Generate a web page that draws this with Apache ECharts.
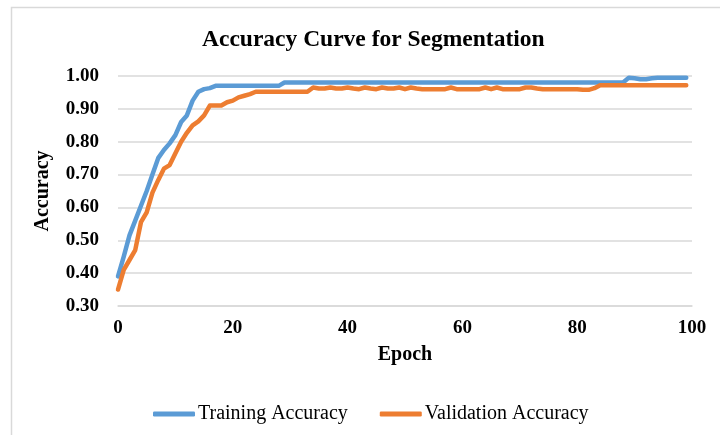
<!DOCTYPE html>
<html>
<head>
<meta charset="utf-8">
<script src="https://cdn.jsdelivr.net/npm/echarts@6/dist/echarts.min.js"></script>
<style>html,body{margin:0;padding:0;background:#fff;}#c{width:720px;height:435px;}</style>
</head>
<body>
<div id="c"></div>
<script>
const titleText = "Accuracy Curve for Segmentation";
const seriesNames = ["Training Accuracy", "Validation Accuracy"];
const yTicks = [0.30, 0.40, 0.50, 0.60, 0.70, 0.80, 0.90, 1.00];
const xTicks = [0, 20, 40, 60, 80, 100];

const training = [
  0.39, 0.45, 0.515, 0.56, 0.605, 0.65, 0.70, 0.75, 0.775, 0.795,
  0.82, 0.86, 0.88, 0.925, 0.952, 0.96, 0.963, 0.97, 0.97, 0.97,
  0.97, 0.97, 0.97, 0.97, 0.97, 0.97, 0.97, 0.97, 0.97, 0.98,
  0.98, 0.98, 0.98, 0.98, 0.98, 0.98, 0.98, 0.98, 0.98, 0.98,
  0.98, 0.98, 0.98, 0.98, 0.98, 0.98, 0.98, 0.98, 0.98, 0.98,
  0.98, 0.98, 0.98, 0.98, 0.98, 0.98, 0.98, 0.98, 0.98, 0.98,
  0.98, 0.98, 0.98, 0.98, 0.98, 0.98, 0.98, 0.98, 0.98, 0.98,
  0.98, 0.98, 0.98, 0.98, 0.98, 0.98, 0.98, 0.98, 0.98, 0.98,
  0.98, 0.98, 0.98, 0.98, 0.98, 0.98, 0.98, 0.98, 0.98, 0.995,
  0.993, 0.99, 0.99, 0.993, 0.995, 0.995, 0.995, 0.995, 0.995, 0.995
];
const validation = [
  0.35, 0.41, 0.44, 0.47, 0.555, 0.585, 0.645, 0.683, 0.718, 0.729,
  0.765, 0.80, 0.827, 0.85, 0.862, 0.88, 0.91, 0.91, 0.91, 0.92,
  0.925, 0.935, 0.94, 0.945, 0.952, 0.952, 0.952, 0.952, 0.952, 0.952,
  0.952, 0.952, 0.952, 0.952, 0.965, 0.962, 0.962, 0.965, 0.962, 0.962,
  0.965, 0.962, 0.96, 0.965, 0.962, 0.96, 0.965, 0.962, 0.962, 0.965,
  0.96, 0.965, 0.962, 0.96, 0.96, 0.96, 0.96, 0.96, 0.965, 0.96,
  0.96, 0.96, 0.96, 0.96, 0.965, 0.96, 0.965, 0.96, 0.96, 0.96,
  0.96, 0.965, 0.965, 0.962, 0.96, 0.96, 0.96, 0.96, 0.96, 0.96,
  0.96, 0.958, 0.958, 0.963, 0.972, 0.972, 0.972, 0.972, 0.972, 0.972,
  0.972, 0.972, 0.972, 0.972, 0.972, 0.972, 0.972, 0.972, 0.972, 0.972
];

const pts = arr => arr.map((v, i) => [i, v]);
const serif = "'Liberation Serif', 'Times New Roman', serif";

const chart = echarts.init(document.getElementById('c'), null, {renderer: 'canvas'});
chart.setOption({
  animation: false,
  backgroundColor: '#fff',
  graphic: [{
    type: 'rect', left: 9, top: 5, silent: true,
    shape: {width: 730, height: 450},
    style: {fill: 'none', stroke: '#D9D9D9', lineWidth: 1.5}
  }],
  title: {
    text: titleText, left: 197, top: 23,
    textStyle: {fontFamily: serif, fontWeight: 'bold', fontSize: 23.5, color: '#000'}
  },
  legend: {
    top: 399, left: 148, itemGap: 32, itemWidth: 42, itemHeight: 5,
    icon: 'roundRect',
    textStyle: {fontFamily: serif, fontSize: 20, color: '#000', padding: [0, 0, 0, -2]},
    data: seriesNames
  },
  grid: {left: 118, right: 28, top: 76, bottom: 129, containLabel: false},
  xAxis: {
    type: 'value', min: 0, max: 100, interval: 20,
    name: 'Epoch', nameLocation: 'middle', nameGap: 39,
    nameTextStyle: {fontFamily: serif, fontWeight: 'bold', fontSize: 20, color: '#000'},
    axisLine: {show: true, lineStyle: {color: '#D9D9D9', width: 1.5}},
    axisTick: {show: false},
    splitLine: {show: false},
    axisLabel: {fontFamily: serif, fontWeight: 'bold', fontSize: 19, color: '#000', margin: 13,
      formatter: v => xTicks.includes(v) ? String(v) : ''}
  },
  yAxis: {
    type: 'value', min: 0.3, max: 1.0, interval: 0.1,
    name: 'Accuracy', nameLocation: 'middle', nameGap: 65, nameRotate: 90,
    nameTextStyle: {fontFamily: serif, fontWeight: 'bold', fontSize: 20, color: '#000'},
    axisLine: {show: false},
    axisTick: {show: false},
    splitLine: {show: true, lineStyle: {color: '#D9D9D9', width: 1.5}},
    axisLabel: {fontFamily: serif, fontWeight: 'bold', fontSize: 19, color: '#000', margin: 19,
      formatter: v => {
        const t = yTicks.find(k => Math.abs(k - v) < 1e-6);
        return t !== undefined ? t.toFixed(2) : '';
      }}
  },
  series: [
    {name: seriesNames[0], type: 'line', data: pts(training), symbol: 'none', smooth: false,
      itemStyle: {color: '#5B9BD5'}, lineStyle: {color: '#5B9BD5', width: 4.5, cap: 'round', join: 'round'}},
    {name: seriesNames[1], type: 'line', data: pts(validation), symbol: 'none', smooth: false,
      itemStyle: {color: '#ED7D31'}, lineStyle: {color: '#ED7D31', width: 4.5, cap: 'round', join: 'round'}}
  ]
});
</script>
</body>
</html>
